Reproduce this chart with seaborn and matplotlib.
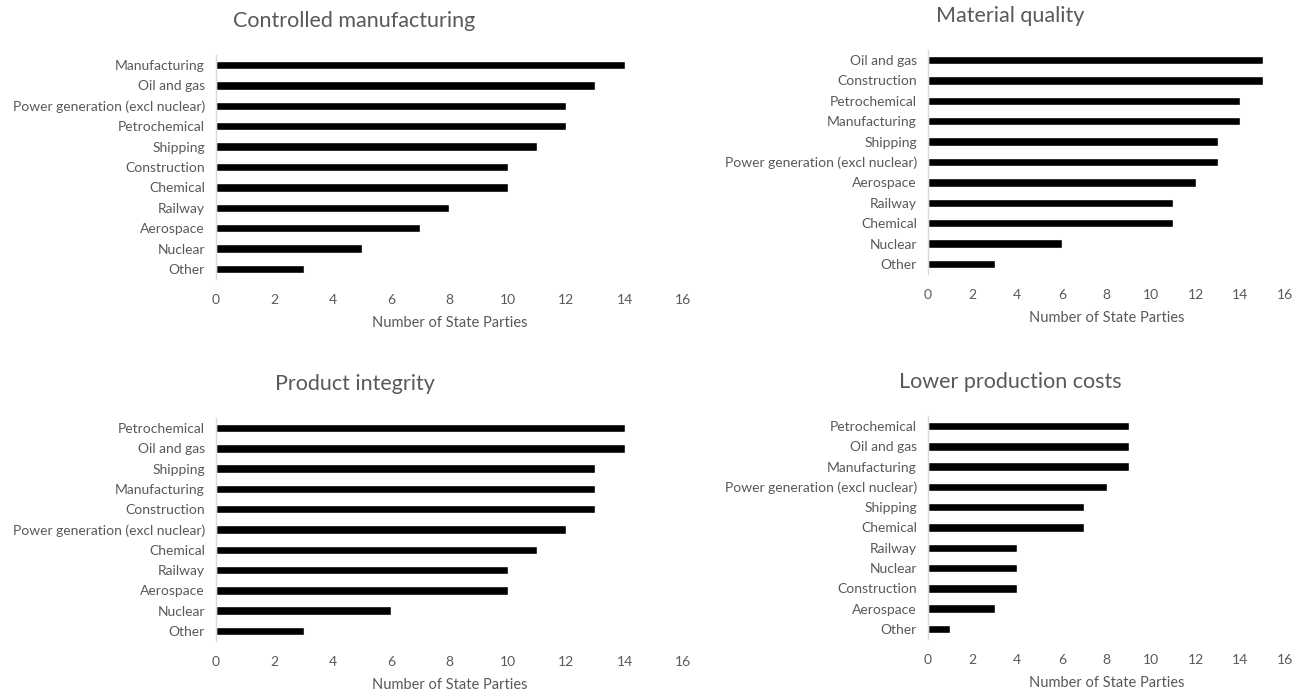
import matplotlib
matplotlib.use("Agg")
import matplotlib.pyplot as plt
import seaborn as sns
import pandas as pd

sns.set_theme(style="white")
plt.rcParams['font.family'] = ['Lato', 'DejaVu Sans']

TEXT = "#595959"

cm_cats = ["Manufacturing", "Oil and gas", "Power generation (excl nuclear)", "Petrochemical",
           "Shipping", "Construction", "Chemical", "Railway", "Aerospace", "Nuclear", "Other"]
cm_vals = [14, 13, 12, 12, 11, 10, 10, 8, 7, 5, 3]

mq_cats = ["Oil and gas", "Construction", "Petrochemical", "Manufacturing", "Shipping",
           "Power generation (excl nuclear)", "Aerospace", "Railway", "Chemical", "Nuclear", "Other"]
mq_vals = [15, 15, 14, 14, 13, 13, 12, 11, 11, 6, 3]

pi_cats = ["Petrochemical", "Oil and gas", "Shipping", "Manufacturing", "Construction",
           "Power generation (excl nuclear)", "Chemical", "Railway", "Aerospace", "Nuclear", "Other"]
pi_vals = [14, 14, 13, 13, 13, 12, 11, 10, 10, 6, 3]

lc_cats = ["Petrochemical", "Oil and gas", "Manufacturing", "Power generation (excl nuclear)",
           "Shipping", "Chemical", "Railway", "Nuclear", "Construction", "Aerospace", "Other"]
lc_vals = [9, 9, 9, 8, 7, 7, 4, 4, 4, 3, 1]

titles = ["Controlled manufacturing", "Material quality", "Product integrity", "Lower production costs"]
xticks = [0, 2, 4, 6, 8, 10, 12, 14, 16]
xlabel = "Number of State Parties"

W, H = 1303, 695
fig = plt.figure(figsize=(W / 100, H / 100), dpi=100)

# axes boxes in pixels: left, right, top, bottom
boxes = [(216, 683, 54.8, 279.2), (928, 1285, 49.8, 274.2),
         (216, 683, 417.8, 641.2), (928, 1285, 415.8, 639.2)]
title_pos = [(354, 21), (1010, 16), (355, 384), (1010, 382)]
data = [(cm_cats, cm_vals), (mq_cats, mq_vals), (pi_cats, pi_vals), (lc_cats, lc_vals)]

for (l, r, t, b), (tx, ty), (cats, vals), title in zip(boxes, title_pos, data, titles):
    ax = fig.add_axes([l / W, 1 - b / H, (r - l) / W, (b - t) / H])
    df = pd.DataFrame({"cat": cats, "val": vals})
    sns.barplot(data=df, x="val", y="cat", orient="h", color="black", width=0.42,
                saturation=1, ax=ax)
    ax.set_xlim(0, 16)
    ax.set_xticks(xticks)
    ax.set_xticklabels([str(v) for v in xticks])
    ax.set_ylabel("")
    ax.set_xlabel(xlabel, color=TEXT, fontsize=10.5, labelpad=7)
    ax.tick_params(axis="x", length=0, pad=11, labelsize=10, labelcolor=TEXT)
    ax.tick_params(axis="y", length=0, pad=8, labelsize=10, labelcolor=TEXT)
    for s in ["top", "right", "bottom"]:
        ax.spines[s].set_visible(False)
    ax.spines["left"].set_color("#d9d9d9")
    ax.spines["left"].set_linewidth(1)
    ax.grid(False)
    fig.text(tx / W, 1 - ty / H, title, ha="center", va="center", fontsize=15.5, color=TEXT)

fig.savefig("out.png", dpi=100, facecolor="white")
